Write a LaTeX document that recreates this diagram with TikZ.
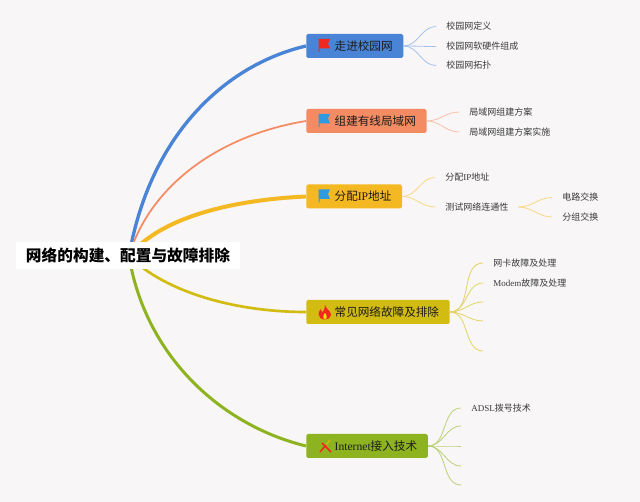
\documentclass[tikz,border=0pt]{standalone}
\usepackage{fontspec}
\usepackage{xcolor}
\usepackage{tikz}
\usetikzlibrary{backgrounds}
\setmainfont{Liberation Serif}
\newfontfamily\cjk{Noto Sans CJK SC}
\newcommand{\lat}[1]{{\rmfamily #1}}
\definecolor{pagebg}{HTML}{F8F6F6}
\definecolor{inkdark}{HTML}{1C1C1C}
\definecolor{inksub}{HTML}{3A3A3A}
\definecolor{topicblue}{HTML}{4A84D6}
\definecolor{topicorange}{HTML}{F58B63}
\definecolor{topicyellow}{HTML}{F4B822}
\definecolor{topicolive}{HTML}{D3BC12}
\definecolor{topicgreen}{HTML}{8DB320}
\definecolor{flagred}{HTML}{F0281E}
\definecolor{flagblue}{HTML}{2E9BE0}
\tikzset{
	rootbox/.style={fill=white,text=black,inner xsep=7.5pt,inner ysep=0pt,minimum height=20.5pt,
		font=\cjk\bfseries\fontsize{11.77}{13}\selectfont},
	topicbox/.style={fill=#1,rounded corners=1.2pt,anchor=west,text=inkdark,minimum height=18pt,
		inner xsep=7.5pt,inner ysep=0pt,font=\cjk\fontsize{8.7}{10}\selectfont,
		execute at begin node={\hspace*{13.8pt}},execute at end node={\hspace*{0.5pt}}},
	subtext/.style={anchor=west,text=inksub,inner xsep=7.5pt,inner ysep=0pt,
		font=\cjk\fontsize{6.75}{8}\selectfont},
	leafline/.style={draw=#1,line width=0.6pt},
	flagicon/.pic={
		\fill[#1] (-5.5,-6.5) -- (6,-6.5) -- (4,-2) -- (6,3) -- (-4.5,3) -- (-4.5,6.5) -- (-5.5,6.5) -- cycle;
	},
}
\begin{document}
\begin{tikzpicture}[x=0.75pt,y=-0.75pt]
	\useasboundingbox (0,0) rectangle (640,502);
	\begin{scope}[on background layer]
		\fill[pagebg] (0,0) rectangle (640,502);
	\end{scope}

	\node[rootbox] (root) at (128,255.5) {网络的构建、配置与故障排除};
	\coordinate (hub) at (129,256);

	\node[topicbox=topicblue] (zoujin) at (306,46) {走进校园网};
	\node[topicbox=topicorange] (zujian) at (306,121) {组建有线局域网};
	\node[topicbox=topicyellow] (fenpei) at (306,196.5) {分配\lat{IP}地址};
	\node[topicbox=topicolive] (guzhang) at (306,312) {常见网络故障及排除};
	\node[topicbox=topicgreen] (jieru) at (306,446) {\lat{Internet}接入技术};

	\node[subtext] (zoujina) at (436,26.5) {校园网定义};
	\node[subtext] (zoujinb) at (436,46.5) {校园网软硬件组成};
	\node[subtext] (zoujinc) at (436,65.5) {校园网拓扑};
	\node[subtext] (zujiana) at (459,112) {局域网组建方案};
	\node[subtext] (zujianb) at (459,132) {局域网组建方案实施};
	\node[subtext] (fenpeia) at (435,177.5) {分配\lat{IP}地址};
	\node[subtext] (fenpeib) at (435,207) {测试网络连通性};
	\node[subtext] (dianlu) at (552,197.5) {电路交换};
	\node[subtext] (fenzu) at (552,217) {分组交换};
	\node[subtext] (guzhanga) at (483,263) {网卡故障及处理};
	\node[subtext] (guzhangb) at (483,283) {\lat{Modem}故障及处理};
	\coordinate (guzhangc) at (483,302);
	\coordinate (guzhangd) at (483,321);
	\coordinate (guzhange) at (483,351);
	\node[subtext] (jierua) at (461,408) {\lat{ADSL}拨号技术};
	\coordinate (jierub) at (461,426);
	\coordinate (jieruc) at (461,446);
	\coordinate (jierud) at (461,466);
	\coordinate (jierue) at (461,485);

	\begin{scope}[on background layer]
		\draw[topicblue,line width=2.5pt] (hub) .. controls (150,135) and (225,65) .. (zoujin.west);
		\draw[topicorange,line width=1.3pt] (hub) .. controls (150,185) and (220,135) .. (zujian.west);
		\draw[topicyellow,line width=3pt] (hub) .. controls (160,218) and (230,200) .. (fenpei.west);
		\draw[topicolive,line width=2pt] (hub) .. controls (165,292) and (235,312) .. (guzhang.west);
		\draw[topicgreen,line width=2.25pt] (hub) .. controls (145,355) and (220,425) .. (jieru.west);
	\end{scope}

	\draw[leafline=topicblue!50] (zoujin.east) to[out=0,in=180] (zoujina.west);
	\draw[leafline=topicblue!50] (zoujin.east) to[out=0,in=180] (zoujinb.west);
	\draw[leafline=topicblue!50] (zoujin.east) to[out=0,in=180] (zoujinc.west);
	\draw[leafline=topicorange!55] (zujian.east) to[out=0,in=180] (zujiana.west);
	\draw[leafline=topicorange!55] (zujian.east) to[out=0,in=180] (zujianb.west);
	\draw[leafline=topicyellow!55] (fenpei.east) to[out=0,in=180] (fenpeia.west);
	\draw[leafline=topicyellow!55] (fenpei.east) to[out=0,in=180] (fenpeib.west);
	\draw[leafline=topicyellow!55] (fenpeib.east) to[out=0,in=180] (dianlu.west);
	\draw[leafline=topicyellow!55] (fenpeib.east) to[out=0,in=180] (fenzu.west);
	\draw[leafline=topicolive!65] (guzhang.east) to[out=0,in=180] (guzhanga.west);
	\draw[leafline=topicolive!65] (guzhang.east) to[out=0,in=180] (guzhangb.west);
	\draw[leafline=topicolive!65] (guzhang.east) to[out=0,in=180] (guzhangc);
	\draw[leafline=topicolive!65] (guzhang.east) to[out=0,in=180] (guzhangd);
	\draw[leafline=topicolive!65] (guzhang.east) to[out=0,in=180] (guzhange);
	\draw[leafline=topicgreen!60] (jieru.east) to[out=0,in=180] (jierua.west);
	\draw[leafline=topicgreen!60] (jieru.east) to[out=0,in=180] (jierub);
	\draw[leafline=topicgreen!60] (jieru.east) to[out=0,in=180] (jieruc);
	\draw[leafline=topicgreen!60] (jieru.east) to[out=0,in=180] (jierud);
	\draw[leafline=topicgreen!60] (jieru.east) to[out=0,in=180] (jierue);

	\pic at (324,45.5) {flagicon=flagred};
	\pic at (324,120.5) {flagicon=flagblue};
	\pic at (324,196) {flagicon=flagblue};
	\fill[flagred] (325,305) .. controls (326,309) and (331,311) .. (331,315)
		.. controls (331,318) and (328,319.5) .. (325,319.5)
		.. controls (321,319.5) and (318.5,317) .. (318.5,314)
		.. controls (318.5,312) and (320,310) .. (321,309)
		.. controls (321,311) and (322,312) .. (323,312)
		.. controls (324,310) and (325,308) .. (325,305) -- cycle;
	\fill[topicolive!40!yellow] (325,313) .. controls (327,315) and (327.5,319) .. (325,319)
		.. controls (322.5,319) and (323,315) .. (325,313) -- cycle;
	\draw[flagred,line width=1.1pt] (320,452) -- (326,445);
	\draw[flagred,line width=1.1pt] (322,443) -- (331,452);
	\draw[topicolive,line width=0.9pt] (326,445) -- (330,440);
\end{tikzpicture}
\end{document}
